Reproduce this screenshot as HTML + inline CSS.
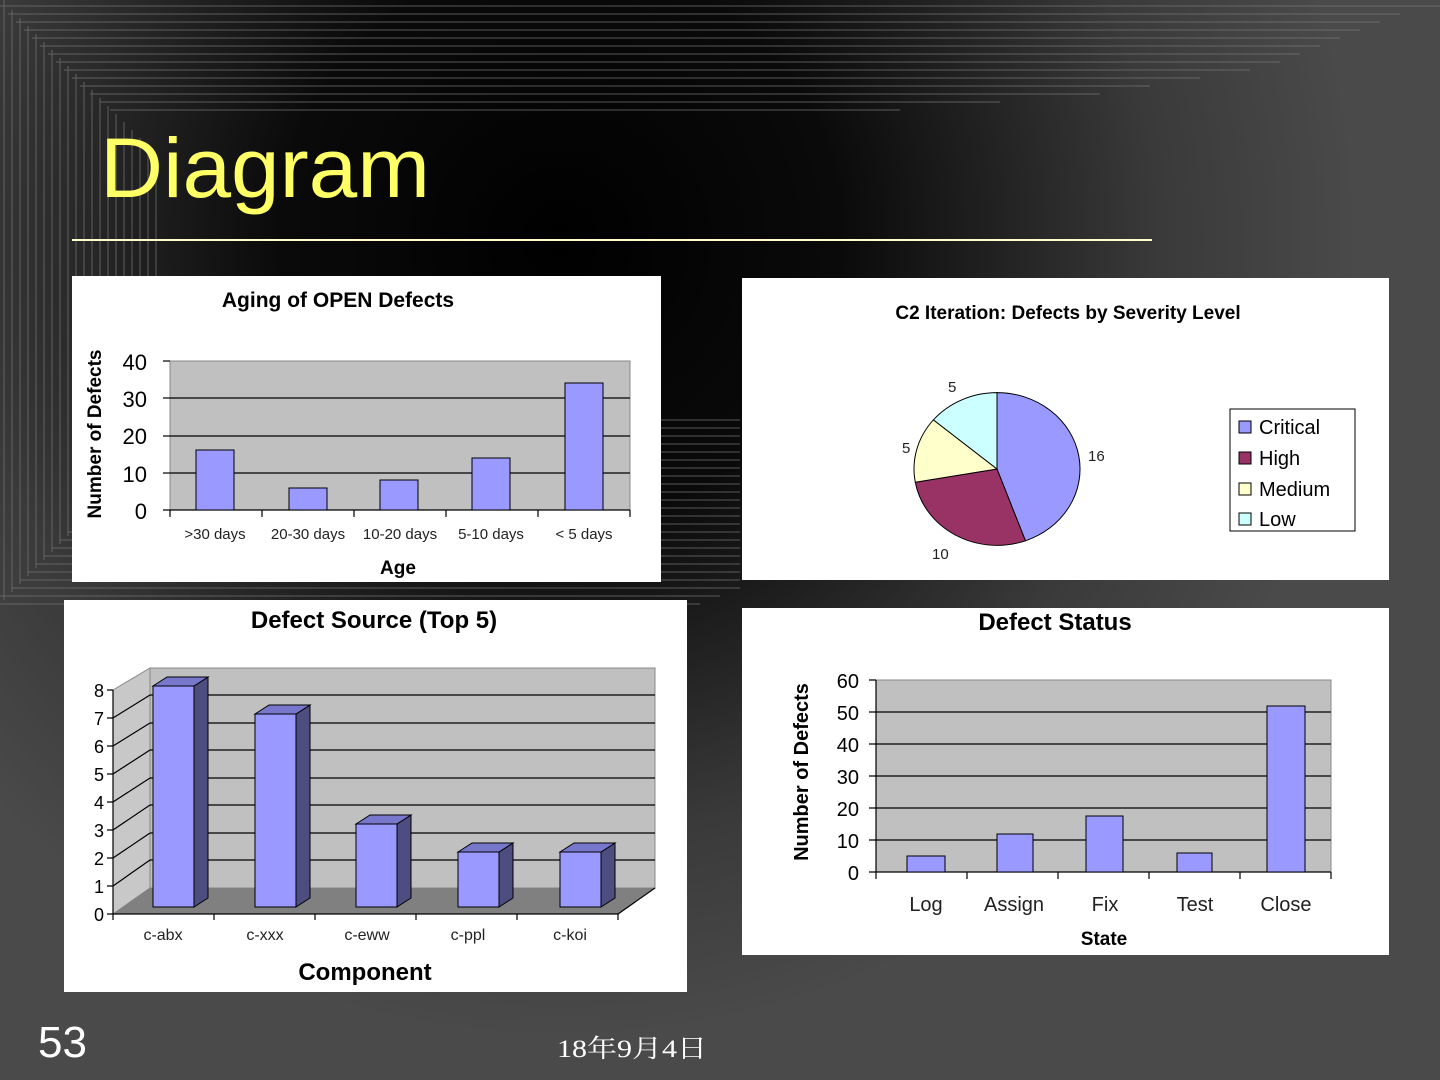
<!DOCTYPE html>
<html><head><meta charset="utf-8"><style>
html,body{margin:0;padding:0;}
body{width:1440px;height:1080px;overflow:hidden;background:#484848;font-family:"Liberation Sans",sans-serif;}
</style></head><body>
<svg width="1440" height="1080" xmlns="http://www.w3.org/2000/svg" style="position:absolute;left:0;top:0">
<defs>
<radialGradient id="bg" cx="560" cy="240" r="800" gradientUnits="userSpaceOnUse">
<stop offset="0" stop-color="#000"/><stop offset="0.35" stop-color="#0a0a0a"/><stop offset="0.75" stop-color="#3a3a3a"/><stop offset="1" stop-color="#4a4a4a"/>
</radialGradient>
</defs>
<rect width="1440" height="1080" fill="url(#bg)"/>
<g stroke="#777" stroke-width="1" fill="none" opacity="0.7">
<path d="M0 6 H1440 M8 14 H1400 M16 22 H1380 M24 30 H1360 M32 38 H1340 M40 46 H1320 M48 54 H1300 M56 62 H1280 M64 70 H1250 M72 78 H1200 M80 86 H1150 M90 94 H1100 M100 102 H1000 M110 110 H900"/>
<path d="M4 0 V600 M12 10 V592 M20 18 V584 M28 26 V576 M36 34 V568 M44 42 V560 M52 50 V552 M60 58 V544 M68 66 V536 M76 74 V528 M84 82 V520 M92 90 V512 M100 98 V504 M108 106 V496 M116 114 V488 M124 122 V480 M132 130 V472 M140 138 V464 M148 146 V456 M156 154 V448"/>
<path d="M0 604 H700 M0 596 H720 M12 588 H740 M20 580 H740 M28 572 H740 M36 564 H740 M44 556 H740 M52 548 H740 M60 540 H740 M68 532 H740 M76 524 H740 M84 516 H740 M92 508 H740 M100 500 H740 M108 492 H740 M116 484 H740 M124 476 H740 M132 468 H740 M140 460 H740 M148 452 H740 M156 444 H740 M164 436 H740 M172 428 H740 M180 420 H740"/>
</g>
<text x="100" y="197" font-size="84" fill="#ffff66" textLength="330" lengthAdjust="spacingAndGlyphs" font-family="Liberation Sans, sans-serif">Diagram</text>
<line x1="72" y1="240" x2="1152" y2="240" stroke="#ffffcc" stroke-width="2"/>

<!-- Chart 1 -->
<rect x="72" y="276" width="589" height="306" fill="#fff"/>
<text x="338" y="307" font-size="21" font-weight="bold" text-anchor="middle">Aging of OPEN Defects</text>
<rect x="170" y="361" width="460" height="149" fill="#c0c0c0" stroke="#888"/>
<g stroke="#000" stroke-width="1.2">
<line x1="170" y1="398" x2="630" y2="398"/><line x1="170" y1="436" x2="630" y2="436"/><line x1="170" y1="473" x2="630" y2="473"/><line x1="163" y1="510" x2="630" y2="510"/>
<line x1="163" y1="361" x2="170" y2="361"/><line x1="163" y1="398" x2="170" y2="398"/><line x1="163" y1="436" x2="170" y2="436"/><line x1="163" y1="473" x2="170" y2="473"/>
<line x1="170" y1="510" x2="170" y2="517"/><line x1="262" y1="510" x2="262" y2="517"/><line x1="354" y1="510" x2="354" y2="517"/><line x1="446" y1="510" x2="446" y2="517"/><line x1="538" y1="510" x2="538" y2="517"/><line x1="630" y1="510" x2="630" y2="517"/>
</g>
<g fill="#9999ff" stroke="#000" stroke-width="1">
<rect x="196" y="450" width="38" height="60"/><rect x="289" y="488" width="38" height="22"/><rect x="380" y="480" width="38" height="30"/><rect x="472" y="458" width="38" height="52"/><rect x="565" y="383" width="38" height="127"/>
</g>
<g font-size="22" text-anchor="end"><text x="147" y="370">40</text><text x="147" y="407">30</text><text x="147" y="444">20</text><text x="147" y="482">10</text><text x="147" y="519">0</text></g>
<g font-size="15" text-anchor="middle" fill="#222"><text x="215" y="539">&gt;30 days</text><text x="308" y="539">20-30 days</text><text x="400" y="539">10-20 days</text><text x="491" y="539">5-10 days</text><text x="584" y="539">&lt; 5 days</text></g>
<text x="398" y="574" font-size="19" font-weight="bold" text-anchor="middle">Age</text>
<text transform="translate(101,434) rotate(-90)" font-size="19" font-weight="bold" text-anchor="middle">Number of Defects</text>

<!-- Chart 2 -->
<rect x="742" y="278" width="647" height="302" fill="#fff"/>
<text x="1068" y="319" font-size="19" font-weight="bold" text-anchor="middle">C2 Iteration: Defects by Severity Level</text>
<g stroke="#000" stroke-width="1" transform="translate(997,469) scale(1,0.92)">
<path d="M0 0 L0 -83 A83 83 0 0 1 28.4 78 Z" fill="#9999ff"/>
<path d="M0 0 L28.4 78 A83 83 0 0 1 -81.7 14.4 Z" fill="#993366"/>
<path d="M0 0 L-81.7 14.4 A83 83 0 0 1 -63.6 -53.4 Z" fill="#ffffcc"/>
<path d="M0 0 L-63.6 -53.4 A83 83 0 0 1 0 -83 Z" fill="#ccffff"/>
</g>
<g font-size="15" fill="#222"><text x="948" y="392">5</text><text x="902" y="453">5</text><text x="1088" y="461">16</text><text x="932" y="559">10</text></g>
<rect x="1230" y="409" width="125" height="122" fill="#fff" stroke="#000"/>
<g stroke="#000"><rect x="1239" y="421" width="12" height="12" fill="#9999ff"/><rect x="1239" y="452" width="12" height="12" fill="#993366"/><rect x="1239" y="483" width="12" height="12" fill="#ffffcc"/><rect x="1239" y="513" width="12" height="12" fill="#ccffff"/></g>
<g font-size="20"><text x="1259" y="434">Critical</text><text x="1259" y="465">High</text><text x="1259" y="496">Medium</text><text x="1259" y="526">Low</text></g>

<!-- Chart 3 -->
<rect x="64" y="600" width="623" height="392" fill="#fff"/>
<text x="374" y="628" font-size="24" font-weight="bold" text-anchor="middle">Defect Source (Top 5)</text>
<polygon points="113,690 150,668 150,888 113,914" fill="#c8c8c8" stroke="#888"/>
<rect x="150" y="668" width="505" height="220" fill="#c0c0c0" stroke="#888"/>
<polygon points="113,914 150,888 655,888 618,914" fill="#808080"/>
<g stroke="#000" stroke-width="1.2" fill="none">
<path d="M150 860 H655 M150 833 H655 M150 805 H655 M150 778 H655 M150 750 H655 M150 723 H655 M150 695 H655"/>
<path d="M113 886 L150 860 M113 858 L150 833 M113 830 L150 805 M113 802 L150 778 M113 774 L150 750 M113 746 L150 723 M113 718 L150 695"/>
<path d="M113 690 V914 H618 L655 888"/>
<path d="M107 914 H113 M107 886 H113 M107 858 H113 M107 830 H113 M107 802 H113 M107 774 H113 M107 746 H113 M107 718 H113 M107 690 H113"/>
<path d="M113 914 V920 M214 914 V920 M315 914 V920 M416 914 V920 M517 914 V920 M618 914 V920"/>
</g>
<g stroke="#000" stroke-width="1">
<g><rect x="153" y="686" width="41" height="221" fill="#9999ff"/><polygon points="194,686 208,677 208,898 194,907" fill="#4d4d80"/><polygon points="153,686 167,677 208,677 194,686" fill="#7777cc"/></g>
<g><rect x="255" y="714" width="41" height="193" fill="#9999ff"/><polygon points="296,714 310,705 310,898 296,907" fill="#4d4d80"/><polygon points="255,714 269,705 310,705 296,714" fill="#7777cc"/></g>
<g><rect x="356" y="824" width="41" height="83" fill="#9999ff"/><polygon points="397,824 411,815 411,898 397,907" fill="#4d4d80"/><polygon points="356,824 370,815 411,815 397,824" fill="#7777cc"/></g>
<g><rect x="458" y="852" width="41" height="55" fill="#9999ff"/><polygon points="499,852 513,843 513,898 499,907" fill="#4d4d80"/><polygon points="458,852 472,843 513,843 499,852" fill="#7777cc"/></g>
<g><rect x="560" y="852" width="41" height="55" fill="#9999ff"/><polygon points="601,852 615,843 615,898 601,907" fill="#4d4d80"/><polygon points="560,852 574,843 615,843 601,852" fill="#7777cc"/></g>
</g>
<g font-size="18" text-anchor="end"><text x="104" y="921">0</text><text x="104" y="893">1</text><text x="104" y="865">2</text><text x="104" y="837">3</text><text x="104" y="809">4</text><text x="104" y="781">5</text><text x="104" y="753">6</text><text x="104" y="725">7</text><text x="104" y="697">8</text></g>
<g font-size="16" text-anchor="middle" fill="#222"><text x="163" y="940">c-abx</text><text x="265" y="940">c-xxx</text><text x="367" y="940">c-eww</text><text x="468" y="940">c-ppl</text><text x="570" y="940">c-koi</text></g>
<text x="365" y="980" font-size="24" font-weight="bold" text-anchor="middle">Component</text>

<!-- Chart 4 -->
<rect x="742" y="608" width="647" height="347" fill="#fff"/>
<text x="1055" y="630" font-size="24" font-weight="bold" text-anchor="middle">Defect Status</text>
<rect x="876" y="680" width="455" height="192" fill="#c0c0c0" stroke="#888"/>
<g stroke="#000" stroke-width="1.2">
<path d="M876 712 H1331 M876 744 H1331 M876 776 H1331 M876 808 H1331 M876 840 H1331 M869 872 H1331" fill="none"/>
<path d="M869 680 H876 M869 712 H876 M869 744 H876 M869 776 H876 M869 808 H876 M869 840 H876 M876 680 V872 M876 872 V879 M967 872 V879 M1058 872 V879 M1149 872 V879 M1240 872 V879 M1331 872 V879" fill="none"/>
</g>
<g fill="#9999ff" stroke="#000" stroke-width="1">
<rect x="907" y="856" width="38" height="16"/><rect x="997" y="834" width="36" height="38"/><rect x="1086" y="816" width="37" height="56"/><rect x="1177" y="853" width="35" height="19"/><rect x="1267" y="706" width="38" height="166"/>
</g>
<g font-size="20" text-anchor="end"><text x="859" y="688">60</text><text x="859" y="720">50</text><text x="859" y="752">40</text><text x="859" y="784">30</text><text x="859" y="816">20</text><text x="859" y="848">10</text><text x="859" y="880">0</text></g>
<g font-size="20" text-anchor="middle" fill="#222"><text x="926" y="911">Log</text><text x="1014" y="911">Assign</text><text x="1105" y="911">Fix</text><text x="1195" y="911">Test</text><text x="1286" y="911">Close</text></g>
<text x="1104" y="945" font-size="19" font-weight="bold" text-anchor="middle">State</text>
<text transform="translate(808,772) rotate(-90)" font-size="20" font-weight="bold" text-anchor="middle">Number of Defects</text>

<text x="38" y="1057" font-size="44" fill="#fff">53</text>
<text x="557" y="1057" font-size="25" fill="#fff" textLength="150" lengthAdjust="spacingAndGlyphs" font-family="Liberation Serif, Noto Serif CJK SC, serif">18年9月4日</text>
</svg>
</body></html>
